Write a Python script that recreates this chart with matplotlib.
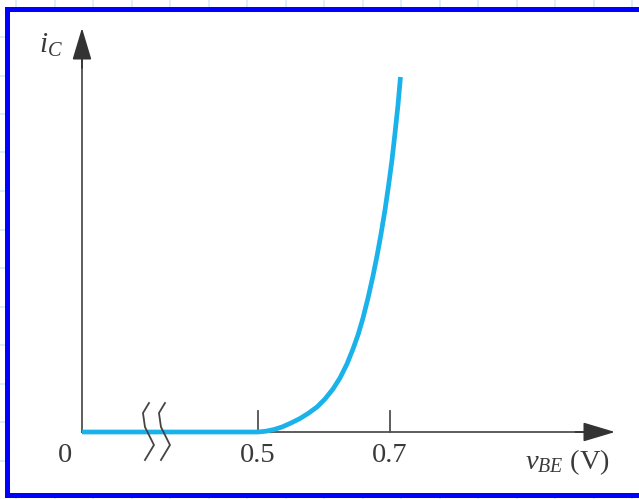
import numpy as np
import matplotlib
matplotlib.use('Agg')
import matplotlib.pyplot as plt
from matplotlib.lines import Line2D
from matplotlib.patches import Rectangle
import matplotlib.transforms as mtransforms

plt.rcParams['font.family'] = ['Liberation Serif', 'DejaVu Serif']
plt.rcParams['mathtext.fontset'] = 'custom'
plt.rcParams['mathtext.rm'] = 'Liberation Serif'
plt.rcParams['mathtext.it'] = 'Liberation Serif:italic'

# i_C versus v_BE (arbitrary current units)
v_be = [0.2333, 0.500, 0.5121, 0.5242, 0.5364, 0.550, 0.5636, 0.5758, 0.5894,
        0.6015, 0.6136, 0.6242, 0.6348, 0.6439, 0.6515, 0.6591, 0.6667, 0.6742,
        0.6803, 0.6864, 0.6924, 0.6977, 0.7030, 0.7076, 0.7121, 0.7159]
i_c = [0, 0, 0.8, 2.5, 5, 9, 13.5, 18.5, 25, 33, 43, 54, 68, 83, 97, 114, 134,
       156, 176, 198, 222, 246, 272, 299, 327, 355]
tick_values = [0.5, 0.7]
tick_labels = ['0.5', '0.7']
break_at = 0.3348

CURVE = '#1ab2ea'
AXIS = '#505050'
TEXT = '#3a3a3a'

W, H = 639, 499
fig = plt.figure(figsize=(W / 100, H / 100), dpi=100)
fig.patch.set_facecolor('white')

# faint page grid showing outside the blue frame
for gx in np.arange(16, W, 38.5):
    fig.add_artist(Line2D([gx / W] * 2, [0, 1], color='#d3e9fb', lw=1.1, zorder=-3))
for gy in np.arange(37, H, 38.5):
    fig.add_artist(Line2D([0, 1], [1 - gy / H] * 2, color='#d3e9fb', lw=1.1, zorder=-3))
fig.add_artist(Rectangle((6.5 / W, 4 / H), 700 / W, 486.5 / H, transform=fig.transFigure,
                         facecolor='white', edgecolor='#0000ff', lw=3.6, zorder=-1))

ax = fig.add_axes([0, 0, 1, 1], zorder=0)
ax.patch.set_visible(False)
ax.set_axis_off()
# 660 px per volt, 0.5 V at x=258 px; 1 unit of i_C per px, origin at y=432 px from top
ax.set_xlim(0.5 - 258 / 660, 0.5 + (W - 258) / 660)
ax.set_ylim(-(H - 432), 432)

x0, y_top, x_tip = v_be[0], 404, 1.0409

# axes with arrow heads
ax.plot([x0, x_tip - 0.03], [0, 0], color=AXIS, lw=1.3, zorder=2)
ax.plot([x0, x0], [0, y_top - 20], color=AXIS, lw=1.3, zorder=2)
arrow = dict(arrowstyle='-|>,head_length=2.0,head_width=0.6', mutation_scale=10,
             color='#333333', lw=1.2, shrinkA=0, shrinkB=0)
ax.annotate('', xy=(x_tip, 0), xytext=(x_tip - 0.06, 0), arrowprops=arrow, zorder=3)
ax.annotate('', xy=(x0, y_top), xytext=(x0, y_top - 40), arrowprops=arrow, zorder=3)

# ticks and labels
for tv, tl in zip(tick_values, tick_labels):
    ax.plot([tv, tv], [0, 21], color=AXIS, lw=1.3, zorder=2)
    ax.text(tv, -24, tl, ha='center', va='center', fontsize=20.5, color=TEXT)
ax.text(x0 - 0.025, -24, '0', ha='center', va='center', fontsize=20.5, color=TEXT)
ax.text(0.9045, -30, r'$v_{BE}$ (V)', ha='left', va='center', fontsize=20.5, color=TEXT)
ax.text(0.1864, 387, r'$i_C$', ha='center', va='center', fontsize=21, color=TEXT)

# the curve
ax.plot(v_be, i_c, color=CURVE, lw=3.4, solid_capstyle='butt',
        solid_joinstyle='round', zorder=4)

# axis break marks (pixel offsets around the axis)
brk_dx = [0, -6, -4, 5, -4]
brk_dy = [29, 19, 5, -13, -28]
base = ax.transData.transform((break_at, 0))
for shift in (0, 16):
    tr = mtransforms.Affine2D().translate(base[0] + shift, base[1])
    ax.plot(brk_dx, brk_dy, color='#444444', lw=1.3, transform=tr, zorder=5,
            solid_joinstyle='round')

fig.savefig('out.png', dpi=100)
